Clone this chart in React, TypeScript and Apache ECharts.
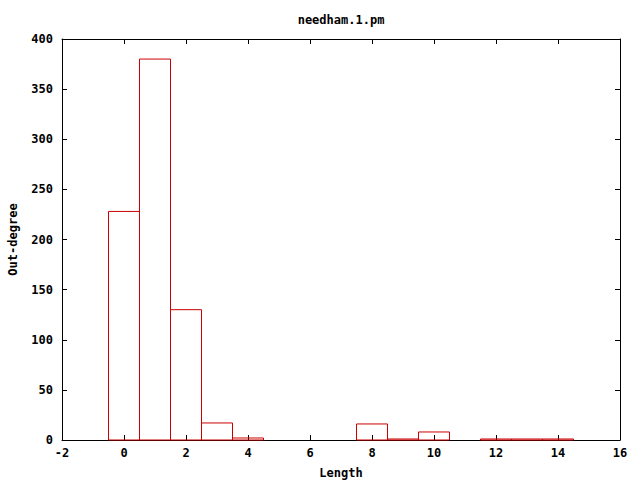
import React, { useEffect, useRef } from "react";
import * as echarts from "echarts";

const lengths = [0, 1, 2, 3, 4, 8, 9, 10, 12, 13, 14];
const outDegree = [228, 380, 130, 17, 2, 16, 1, 8, 1, 1, 1];
const titleText = "needham.1.pm";
const xLabel = "Length";
const yLabel = "Out-degree";

const FONT = "'DejaVu Sans Mono', monospace";
const RED = "#cc0000";

export default function App() {
  const ref = useRef<HTMLDivElement>(null);
  useEffect(() => {
    document.body.style.margin = "0";
    const chart = echarts.init(ref.current!, null, { renderer: "svg" });
    const data = lengths.map((x, i) => [x, outDegree[i]]);
    const axisText = { fontFamily: FONT, fontWeight: "bold" as const, fontSize: 12, color: "#000" };
    chart.setOption({
      animation: false,
      backgroundColor: "#fff",
      title: {
        text: titleText,
        left: 336,
        top: 9,
        textAlign: "center",
        textStyle: axisText,
      },
      grid: { left: 62, right: 20, top: 39, bottom: 40, containLabel: false, outerBoundsMode: "none" },
      xAxis: [
        {
          type: "value",
          min: -2,
          max: 16,
          interval: 2,
          name: xLabel,
          nameLocation: "middle",
          nameGap: 27,
          nameTextStyle: axisText,
          axisLine: { show: true, onZero: false, lineStyle: { color: "#000", width: 1 } },
          axisTick: { show: true, inside: true, length: 5, lineStyle: { color: "#000" } },
          axisLabel: { ...axisText, margin: 7 },
          splitLine: { show: false },
        },
        {
          type: "value",
          position: "top",
          min: -2,
          max: 16,
          interval: 2,
          axisLine: { show: true, onZero: false, lineStyle: { color: "#000", width: 1 } },
          axisTick: { show: true, inside: true, length: 5, lineStyle: { color: "#000" } },
          axisLabel: { show: false },
          splitLine: { show: false },
        },
      ],
      yAxis: [
        {
          type: "value",
          min: 0,
          max: 400,
          interval: 50,
          name: yLabel,
          nameLocation: "middle",
          nameGap: 43,
          nameRotate: 90,
          nameTextStyle: axisText,
          axisLine: { show: true, onZero: false, lineStyle: { color: "#000", width: 1 } },
          axisTick: { show: true, inside: true, length: 5, lineStyle: { color: "#000" } },
          axisLabel: { ...axisText, margin: 9 },
          splitLine: { show: false },
        },
        {
          type: "value",
          position: "right",
          min: 0,
          max: 400,
          interval: 50,
          axisLine: { show: true, onZero: false, lineStyle: { color: "#000", width: 1 } },
          axisTick: { show: true, inside: true, length: 5, lineStyle: { color: "#000" } },
          axisLabel: { show: false },
          splitLine: { show: false },
        },
      ],
      series: [
        {
          type: "custom",
          xAxisIndex: 0,
          yAxisIndex: 0,
          data,
          renderItem: (params: any, api: any) => {
            const x = api.value(0);
            const y = api.value(1);
            const p1 = api.coord([x - 0.5, y]);
            const p2 = api.coord([x + 0.5, 0]);
            return {
              type: "rect",
              shape: { x: p1[0], y: p1[1], width: p2[0] - p1[0], height: p2[1] - p1[1] },
              style: { fill: "none", stroke: RED, lineWidth: 1 },
            };
          },
        },
      ],
    });
    return () => chart.dispose();
  }, []);
  return <div ref={ref} style={{ width: 640, height: 480 }} />;
}
